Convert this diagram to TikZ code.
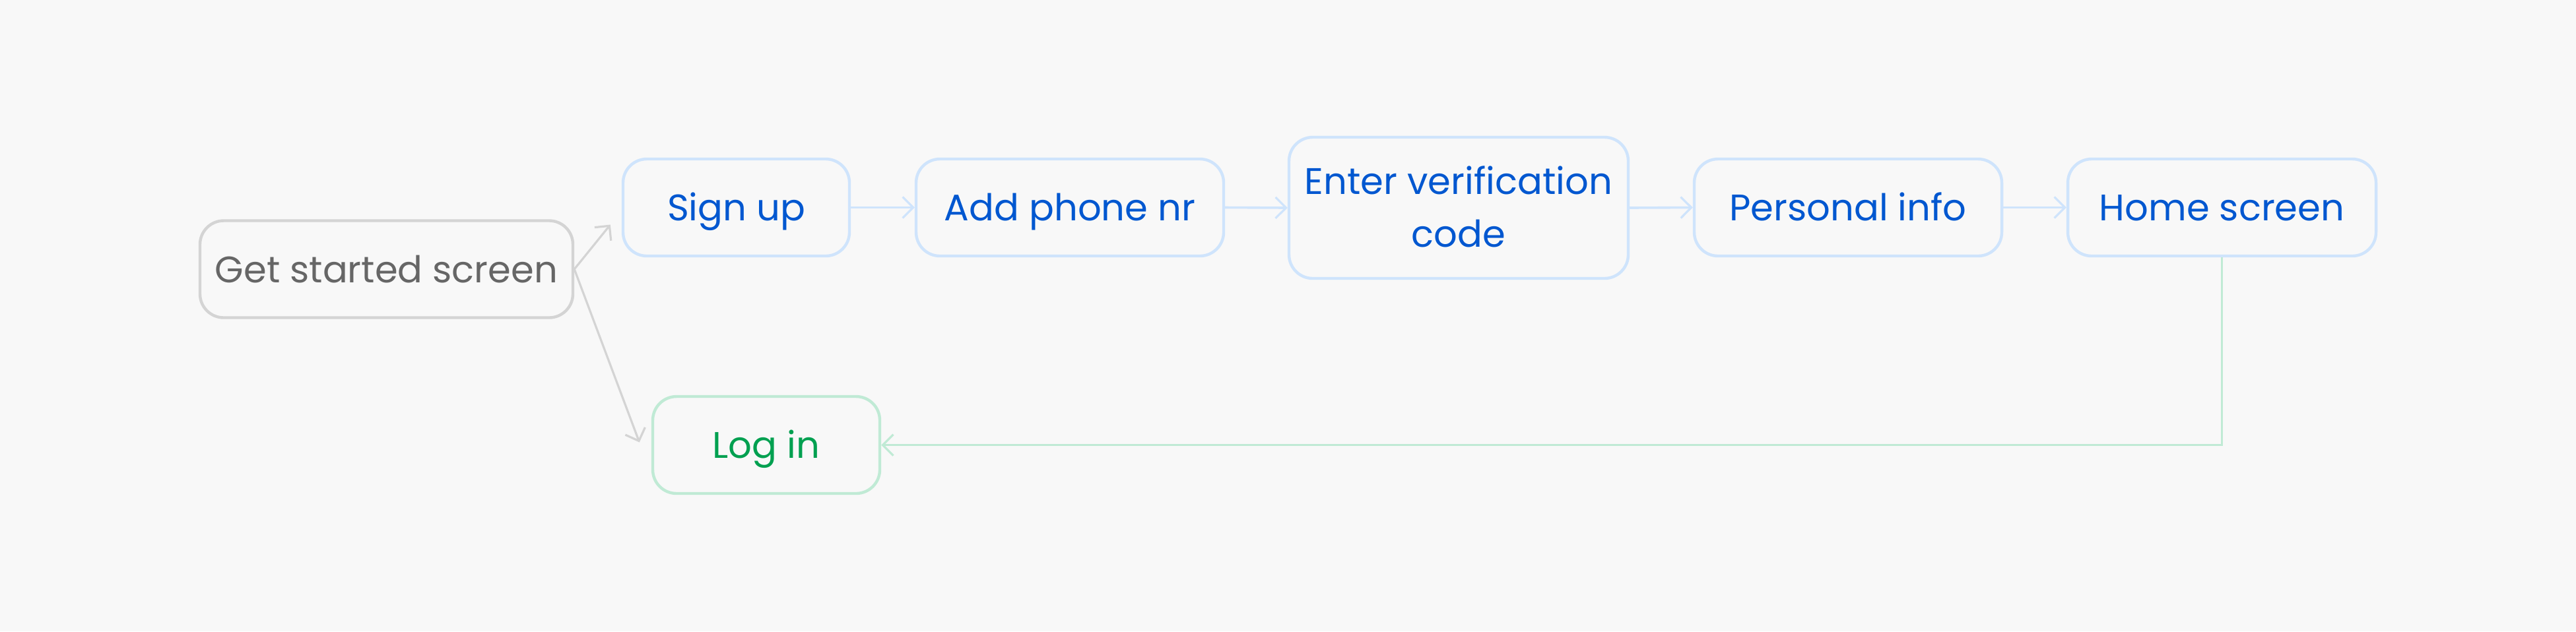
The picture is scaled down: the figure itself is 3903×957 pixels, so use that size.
\documentclass[tikz,border=0pt]{standalone}
\usepackage{fontspec}
\setmainfont{Poppins}
\usetikzlibrary{arrows.meta}
\definecolor{bg}{HTML}{F8F8F8}
\definecolor{blueborder}{HTML}{CFE4FC}
\definecolor{bluetext}{HTML}{0057D0}
\definecolor{grayborder}{HTML}{D4D4D4}
\definecolor{graytext}{HTML}{666666}
\definecolor{greenborder}{HTML}{C0EAD5}
\definecolor{greentext}{HTML}{00A050}
\tikzset{
  box/.style={draw, rounded corners=9pt, line width=1.1pt, fill=bg,
    minimum height=36.75pt, inner sep=0pt, align=center,
    text height=10pt, text depth=0pt,
    font=\fontsize{14}{20}\selectfont},
  bluebox/.style={box, draw=blueborder, text=bluetext},
  graybox/.style={box, draw=grayborder, text=graytext},
  greenbox/.style={box, draw=greenborder, text=greentext},
  tipstyle/.style={-{Straight Barb[length=4pt,width=8pt,line width=0.8pt]}},
  bluearrow/.style={tipstyle, draw=blueborder, line width=0.9pt},
  grayarrow/.style={tipstyle, draw=grayborder, line width=0.8pt},
  greenarrow/.style={tipstyle, draw=greenborder, line width=0.75pt},
}
\begin{document}
\begin{tikzpicture}[x=0.25pt, y=-0.25pt]
\fill[bg] (0,0) rectangle (3903,957);
\useasboundingbox (0,0) rectangle (3903,957);
\node[graybox, minimum width=141.25pt] (gs) at (585.5,408) {Get started screen};
\node[bluebox, minimum width=85.75pt] (signup) at (1115.5,314.5) {Sign up};
\node[bluebox, minimum width=116.5pt] (phone) at (1621,314.5) {Add phone nr};
\node[bluebox, minimum width=128.5pt, minimum height=53.5pt, text height=29.5pt] (verify) at (2210,315) {Enter verification\\code};
\node[bluebox, minimum width=116.5pt] (personal) at (2800,314.5) {Personal info};
\node[bluebox, minimum width=116.75pt] (home) at (3366.5,314.5) {Home screen};
\node[greenbox, minimum width=86pt] (login) at (1161,674.5) {Log in};
\coordinate (t1) at ([shift={(-17,26)}]signup.west);
\coordinate (t2) at ([shift={(-18,-4)}]login.west);
\draw[grayarrow] (gs.east) -- (t1);
\draw[grayarrow] (gs.east) -- (t2);
\draw[bluearrow] (signup.east) -- (phone.west);
\draw[bluearrow] (phone.east) -- (verify.west);
\draw[bluearrow] (verify.east) -- (personal.west);
\draw[bluearrow] (personal.east) -- (home.west);
\draw[greenarrow] (home.south) |- (login.east);
\end{tikzpicture}
\end{document}
